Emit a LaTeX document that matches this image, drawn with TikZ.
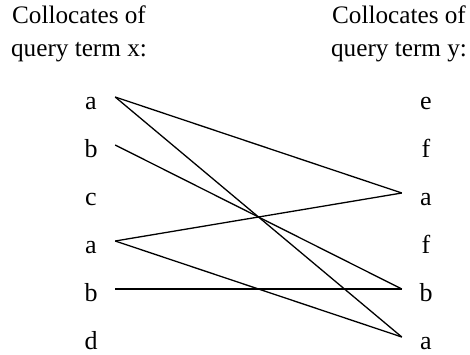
\documentclass[tikz,border=0pt]{standalone}
\usepackage{fontspec}
\setmainfont{Liberation Serif}
\begin{document}
\begin{tikzpicture}[x=1pt, y=-1pt, font=\fontsize{26}{33}\selectfont,
  word/.style={inner xsep=0pt, inner ysep=0pt, minimum width=48pt, text height=25pt, text depth=0pt},
  head/.style={anchor=north, inner sep=0, align=center, font=\fontsize{25.2}{33}\selectfont},
  link/.style={line width=1.3pt}]
\useasboundingbox (0,0) rectangle (470,354);

% --- Headers ---
\node[head] (headx) at (79, 6) {Collocates of\\query term x:};
\node[head] (heady) at (399, 6) {Collocates of\\query term y:};

% --- Collocates of x ---
\foreach \w/\n [count=\i from 0] in {a/xa, b/xb, c/xc, a/xa2, b/xb2, d/xd}
  \node[word] (\n) at (91, 97+48*\i) {\w};

% --- Collocates of y ---
\foreach \w/\n [count=\i from 0] in {e/ye, f/yf, a/ya, f/yf2, b/yb, a/ya2}
  \node[word] (\n) at (426, 97+48*\i) {\w};

% --- Links ---
\draw[link] (xa.east) -- (ya.west);
\draw[link] (xa.east) -- (ya2.west);
\draw[link] (xb.east) -- (yb.west);
\draw[link] (xa2.east) -- (ya.west);
\draw[link] (xa2.east) -- (ya2.west);
\draw[link] (xb2.east) -- (yb.west);

\end{tikzpicture}
\end{document}
